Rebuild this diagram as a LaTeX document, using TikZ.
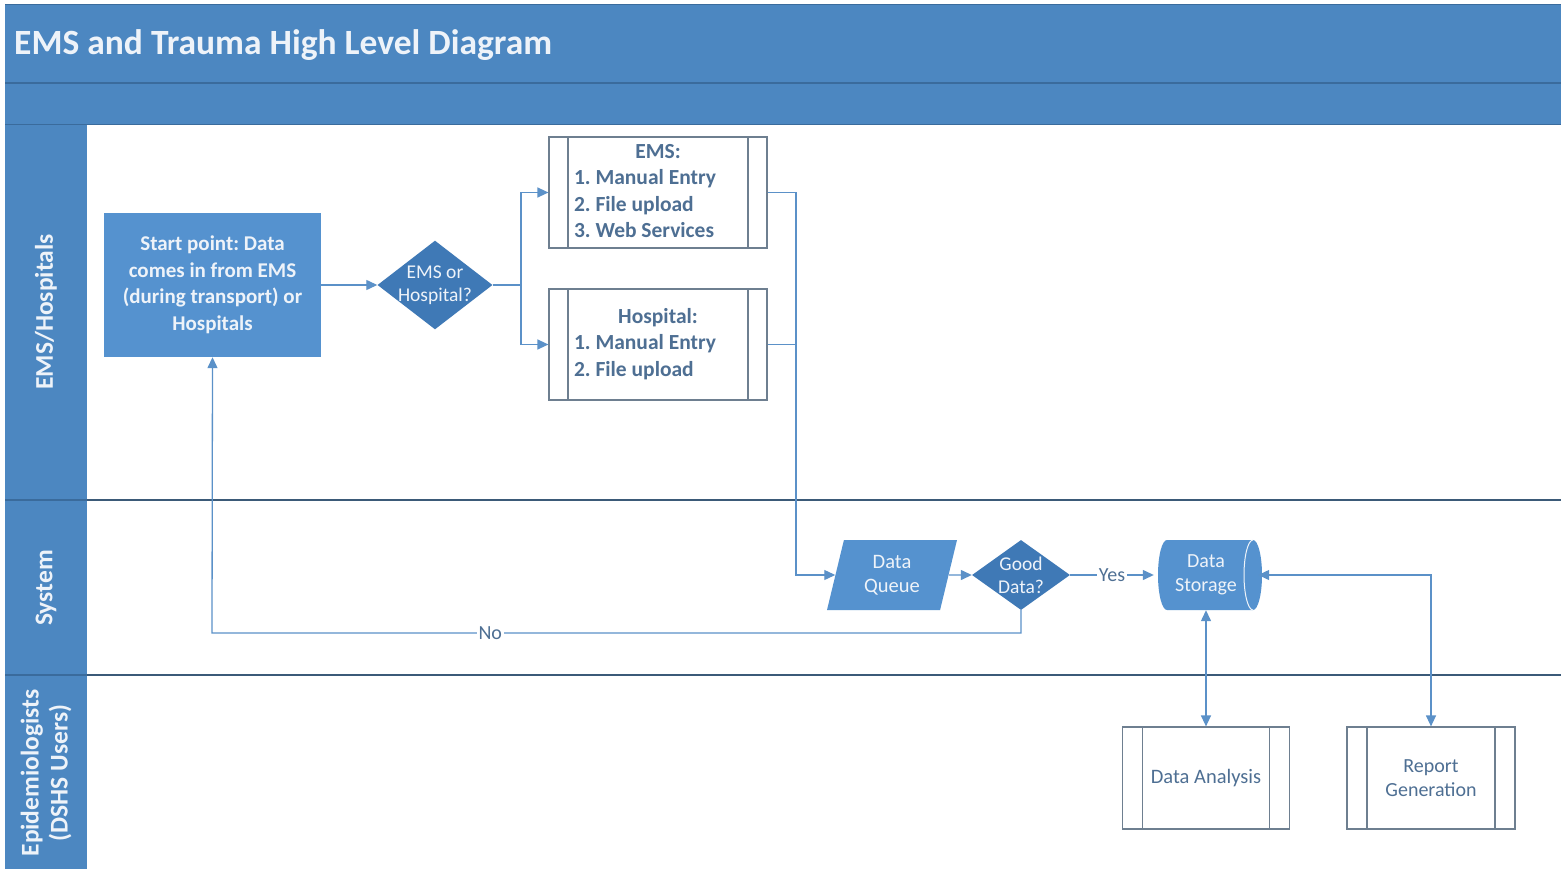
\documentclass[tikz,border=0pt]{standalone}
\usepackage{fontspec}
\setmainfont{Carlito}
\usetikzlibrary{shapes.geometric,arrows.meta,calc}
\frenchspacing

\definecolor{hdr}{HTML}{4C87C1}
\definecolor{hdrline}{HTML}{3A6B9C}
\definecolor{nodeblue}{HTML}{5592CF}
\definecolor{decblue}{HTML}{3F79B6}
\definecolor{wire}{HTML}{5B91C8}
\definecolor{boxedge}{HTML}{6E7F90}
\definecolor{boxtext}{HTML}{4E6F93}
\definecolor{lanesep}{HTML}{3B5A78}
\definecolor{softwhite}{HTML}{EEF3F9}

\tikzset{
  tip/.tip={Triangle[length=11pt,width=10pt]},
  wire/.style={draw=wire, line width=1.3pt, fill=none},
  startbox/.style={rectangle, fill=nodeblue, text=softwhite, align=center,
    font=\bfseries\fontsize{21}{26.5}\selectfont, minimum width=217pt, minimum height=144pt},
  decision/.style={diamond, fill=decblue, text=softwhite, align=center, inner sep=-6pt,
    font=\fontsize{19.5}{23}\selectfont},
  subproc/.style={rectangle, draw=boxedge, fill=white, line width=1.2pt, text=boxtext,
    align=center, inner sep=0pt,
    path picture={
      \draw[boxedge, line width=1.2pt]
        ([xshift=#1]path picture bounding box.north west) -- ([xshift=#1]path picture bounding box.south west)
        ([xshift=-#1]path picture bounding box.north east) -- ([xshift=-#1]path picture bounding box.south east);
    }},
  subproc/.default=19pt,
  listfont/.style={font=\bfseries\fontsize{21.5}{26.5}\selectfont},
  lanelbl/.style={text=softwhite, font=\bfseries\fontsize{25.5}{29}\selectfont, align=center, rotate=90},
  lbl/.style={fill=white, text=boxtext, inner sep=1.5pt, font=\fontsize{20}{22}\selectfont},
}

\begin{document}
\begin{tikzpicture}[x=1pt, y=-1pt]
\useasboundingbox (0,0) rectangle (1561,869);
\fill[white] (0,0) rectangle (1561,869);

% header bars
\fill[hdr] (5,4) rectangle (1561,125);
\draw[hdrline, line width=1.2pt] (5,4.5) -- (1561,4.5);
\draw[hdrline, line width=1.2pt] (5,83) -- (1561,83);
\draw[hdrline, line width=1pt] (5,125) -- (1561,125);
\node[anchor=west, text=softwhite, font=\bfseries\fontsize{35.5}{40}\selectfont, inner sep=0pt]
  (title) at (14,45) {EMS and Trauma High Level Diagram};

% lane label column
\fill[hdr] (5,125) rectangle (87,869);
\draw[hdrline, line width=1.2pt] (5,500) -- (87,500) (5,675) -- (87,675);

% lane separators
\draw[lanesep, line width=1.3pt] (87,500) -- (1561,500) (87,675) -- (1561,675);

\node[lanelbl] (laneA) at (46,312) {EMS/Hospitals};
\node[lanelbl] (laneB) at (46,588) {System};
\node[lanelbl] (laneC) at (46,773) {Epidemiologists\\(DSHS Users)};

% EMS / Hospitals lane
\node[startbox] (start) at (212.5,285) {Start point: Data\\comes in from EMS\\(during transport) or\\Hospitals};
\node[decision, minimum width=115pt, minimum height=88pt] (route) at (435,285) {EMS or\\Hospital?};

\node[subproc, listfont, minimum width=218pt, minimum height=111pt] (ems) at (658,192.5)
  {\hspace*{-26pt}\begin{tabular}{@{}l@{}}\multicolumn{1}{c}{\hspace*{26pt}EMS:}\\1. Manual Entry\\2. File upload\\3. Web Services\end{tabular}};
\node[subproc, listfont, minimum width=218pt, minimum height=111pt] (hosp) at (658,344.5)
  {\hspace*{-26pt}\begin{tabular}{@{}l@{}}\multicolumn{1}{c}{\hspace*{26pt}Hospital:}\\1. Manual Entry\\2. File upload\end{tabular}};

% System lane
\node[trapezium, trapezium left angle=67, trapezium right angle=113, trapezium stretches body,
      fill=nodeblue, text=softwhite, align=center, inner sep=0pt,
      minimum width=130pt, minimum height=70pt, font=\fontsize{20.5}{24}\selectfont]
  (queue) at (892,575) {Data\\Queue};
\node[decision, minimum width=98pt, minimum height=70pt] (good) at (1021,575) {Good\\Data?};

% data storage drum
\fill[nodeblue] (1167,540) -- (1253,540) arc[start angle=-90, end angle=90, x radius=9, y radius=35]
  -- (1167,610) arc[start angle=90, end angle=270, x radius=9, y radius=35] -- cycle;
\draw[softwhite, line width=1pt] (1253,540) arc[start angle=-90, end angle=-270, x radius=9, y radius=35];
\node[rectangle, minimum width=104pt, minimum height=70pt, text=softwhite, align=center,
      inner sep=0pt, font=\fontsize{20}{24}\selectfont] (store) at (1206,575) {Data\\Storage};

% Epidemiologists lane
\node[subproc=20pt, minimum width=167pt, minimum height=102pt,
      font=\fontsize{20.5}{24}\selectfont] (analysis) at (1206,778) {Data Analysis};
\node[subproc=20pt, minimum width=168pt, minimum height=102pt,
      font=\fontsize{20}{24}\selectfont] (report) at (1431,778) {Report\\Generation};

% connectors
\coordinate (split) at (521,285);
\coordinate (join) at (796,344.5);
\coordinate (nobend) at (212,633);

\draw[wire, -tip] (start.east) -- (route.west);
\draw[wire] (route.east) -- (split);
\draw[wire, -tip] (split) |- (ems.west);
\draw[wire, -tip] (split) |- (hosp.west);
\draw[wire] (ems.east) -| (join);
\draw[wire, -tip] (hosp.east) -- (join) |- (queue.west);
\draw[wire, -tip] (queue.east) -- (good.west);
\draw[wire, -tip] (good.east) -- node[lbl] (yes) {Yes} (store.west);
\draw[wire, -tip] (good.south) -- (good.south |- nobend)
  -- node[lbl, pos=0.656] (no) {No} (nobend) -- (start.south);
\draw[wire, tip-tip] (store.south) -- (analysis.north);
\draw[wire, tip-tip] (store.east) -| (report.north);
\end{tikzpicture}
\end{document}
